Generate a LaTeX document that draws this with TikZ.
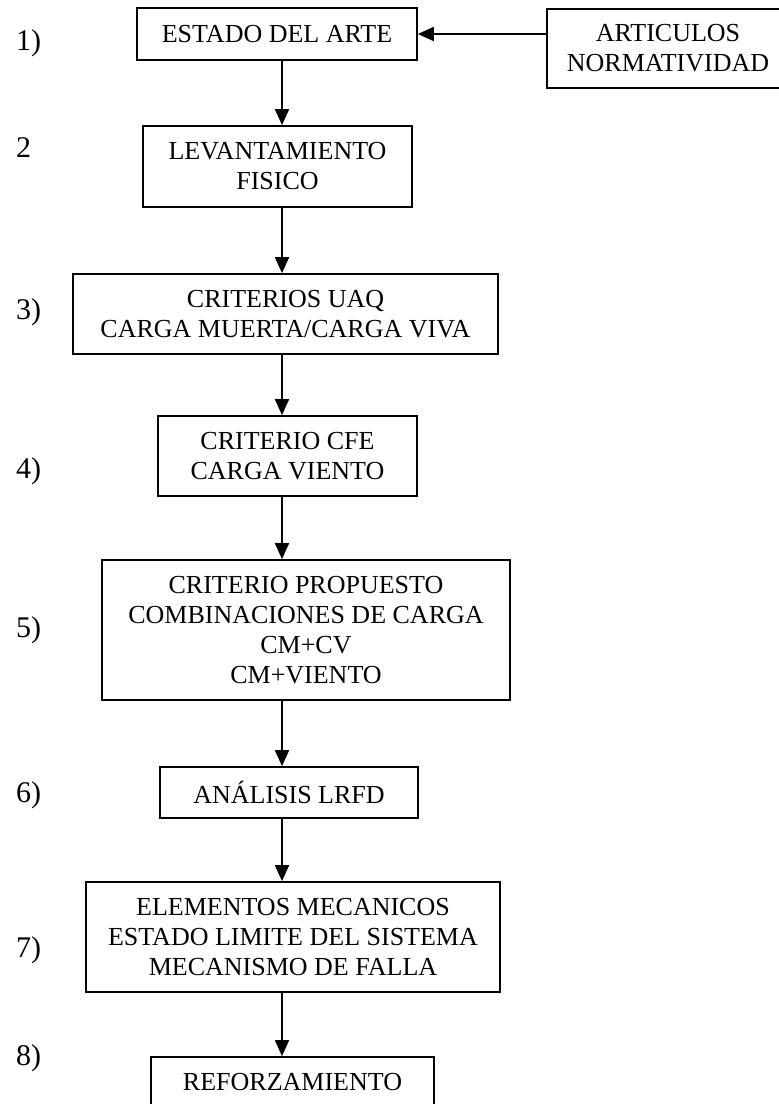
\documentclass[tikz,border=0pt]{standalone}
\usepackage{fontspec}
\setmainfont{Liberation Serif}
\usetikzlibrary{arrows.meta, positioning}

\begin{document}
\begin{tikzpicture}[
    x=1pt, y=-1pt,
    box/.style={rectangle, draw, line width=1.7pt, align=center, inner sep=0pt, font=\fontsize{26}{30}\selectfont},
    num/.style={anchor=base west, inner sep=0pt, font=\fontsize{30}{34}\selectfont},
    arrow/.style={line width=1.7pt, -{Triangle[length=16pt, width=14pt]}}]
    \useasboundingbox (0,0) rectangle (779,1104);
    \coordinate (spine) at (282,0);
    % boxes
    \node[box, minimum width=280pt, minimum height=52pt] (arte) at (277,34) {ESTADO DEL ARTE};
    \node[box, minimum width=242pt, minimum height=79pt] (art) at (668,48.5) {ARTICULOS\\NORMATIVIDAD};
    \node[box, minimum width=269pt, minimum height=81pt] (lev) at (277.5,166.5) {LEVANTAMIENTO\\FISICO};
    \node[box, minimum width=425pt, minimum height=80pt] (uaq) at (285.5,314) {CRITERIOS UAQ\\CARGA MUERTA/CARGA VIVA};
    \node[box, minimum width=259pt, minimum height=80pt] (cfe) at (287.5,456) {CRITERIO CFE\\CARGA VIENTO};
    \node[box, minimum width=408pt, minimum height=140pt] (comb) at (306,630) {CRITERIO PROPUESTO\\COMBINACIONES DE CARGA\\CM+CV\\CM+VIENTO};
    \node[box, minimum width=258pt, minimum height=51pt] (lrfd) at (289,792.5) {ANÁLISIS LRFD};
    \node[box, minimum width=414pt, minimum height=110pt] (mec) at (293,937) {ELEMENTOS MECANICOS\\ESTADO LIMITE DEL SISTEMA\\MECANISMO DE FALLA};
    \node[box, minimum width=283pt, minimum height=51pt] (ref) at (292.5,1082.5) {REFORZAMIENTO};
    % step numbers
    \node[num] (n1) at (16,50) {1)};
    \node[num] (n2) at (16,157) {2};
    \node[num] (n3) at (16,319) {3)};
    \node[num] (n4) at (16,478) {4)};
    \node[num] (n5) at (16,637) {5)};
    \node[num] (n6) at (16,802) {6)};
    \node[num] (n7) at (16,957) {7)};
    \node[num] (n8) at (16,1065) {8)};
    % arrows
    \draw[arrow] (art.west |- arte) -- (arte.east);
    \draw[arrow] (arte.south -| spine) -- (lev.north -| spine);
    \draw[arrow] (lev.south -| spine) -- (uaq.north -| spine);
    \draw[arrow] (uaq.south -| spine) -- (cfe.north -| spine);
    \draw[arrow] (cfe.south -| spine) -- (comb.north -| spine);
    \draw[arrow] (comb.south -| spine) -- (lrfd.north -| spine);
    \draw[arrow] (lrfd.south -| spine) -- (mec.north -| spine);
    \draw[arrow] (mec.south -| spine) -- (ref.north -| spine);
\end{tikzpicture}
\end{document}
